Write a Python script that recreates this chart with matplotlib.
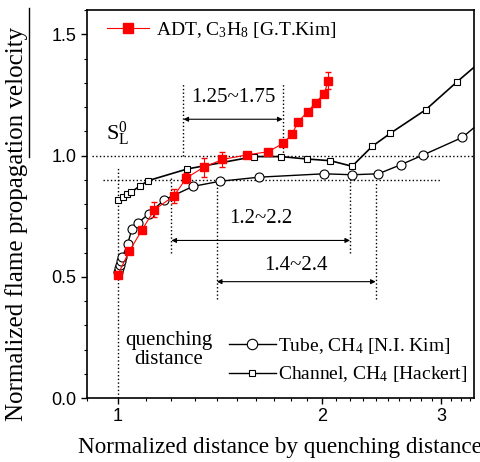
import numpy as np
import matplotlib.pyplot as plt
from matplotlib.lines import Line2D
from matplotlib.ticker import FixedLocator, NullFormatter

plt.rcParams['font.family'] = 'Liberation Serif'
plt.rcParams['mathtext.fontset'] = 'custom'
plt.rcParams['mathtext.rm'] = 'Liberation Serif'
plt.rcParams['mathtext.it'] = 'Liberation Serif:italic'

# datos
adt_x = [1.00, 1.04, 1.087, 1.133, 1.21, 1.263, 1.339, 1.427, 1.549, 1.667,
         1.751, 1.809, 1.841, 1.905, 1.958, 2.015, 2.043]
adt_y = [0.507, 0.605, 0.695, 0.777, 0.833, 0.908, 0.952, 0.984, 1.003, 1.016,
         1.05, 1.089, 1.137, 1.181, 1.219, 1.256, 1.308]
adt_err = [0.01, 0.01, 0.01, 0.03, 0.03, 0.02, 0.04, 0.03, 0.01, 0.01,
           0.01, 0.01, 0.01, 0.01, 0.01, 0.01, 0.035]

tube_x = [1.0, 1.004, 1.008, 1.012, 1.016, 1.035, 1.05, 1.073, 1.111, 1.172,
          1.291, 1.414, 1.615, 2.015, 2.217, 2.422, 2.611, 2.821, 3.22, 3.5]
tube_y = [0.52, 0.535, 0.55, 0.565, 0.58, 0.637, 0.699, 0.723, 0.760, 0.818,
          0.873, 0.894, 0.911, 0.925, 0.921, 0.925, 0.962, 1.003, 1.075, 1.16]

chan_x = [1.0, 1.017, 1.032, 1.047, 1.077, 1.110, 1.267, 1.589, 1.740, 1.900,
          2.058, 2.215, 2.371, 2.522, 2.843, 3.161, 3.5]
chan_y = [0.815, 0.829, 0.840, 0.849, 0.874, 0.897, 0.945, 0.996, 0.996, 0.986,
          0.979, 0.956, 1.038, 1.092, 1.189, 1.304, 1.41]

# rangos marcados con flechas: (x0, x1, y flecha, y0 linea, y1 linea, texto, y texto)
ranges = [
    (1.25, 1.75, 1.15, 1.00, 1.30, '1.25~1.75', 1.24),
    (1.2, 2.2, 0.65, 0.60, 0.91, '1.2~2.2', 0.74),
    (1.4, 2.4, 0.48, 0.41, 0.89, '1.4~2.4', 0.545),
]

fig = plt.figure(figsize=(4.81, 4.62), dpi=100)
ax = fig.add_axes([0.180, 0.1385, 0.8055, 0.8395])
ax.set_xscale('log')

# lineas de referencia
ax.plot([0.917, 3.4], [1.0, 1.0], ':', color='k', lw=1)
ax.plot([0.95, 3.0], [0.9, 0.9], ':', color='k', lw=1)
ax.plot([1.0, 1.0], [0.0, 0.95], ':', color='k', lw=1)

for x0, x1, ya, yb, yt, txt, ytxt in ranges:
    ax.plot([x0, x0], [yb, yt], ':', color='k', lw=1)
    ax.plot([x1, x1], [yb, yt], ':', color='k', lw=1)
    ax.annotate('', xy=(x0, ya), xytext=(x1, ya),
                arrowprops=dict(arrowstyle='<|-|>', color='k', lw=0.8,
                                mutation_scale=7, shrinkA=0, shrinkB=0))
    ax.text(np.sqrt(x0 * x1), ytxt, txt, ha='center', va='center', fontsize=15)

ax.plot(tube_x, tube_y, '-', color='k', lw=1, marker='o', ms=6.5,
        mfc='white', mec='k', mew=0.8, zorder=3)
ax.plot(chan_x, chan_y, '-', color='k', lw=1.2, marker='s', ms=4.5,
        mfc='white', mec='k', mew=0.8, zorder=3)
ax.errorbar(adt_x, adt_y, yerr=adt_err, fmt='-s', color='red', lw=0.8,
            ms=6, mfc='red', mec='red', ecolor='red', elinewidth=0.8,
            capsize=2.5, zorder=4)

ax.text(0.962, 1.09, r'$\mathrm{S}_\mathrm{L}^\mathrm{0}$', fontsize=16,
        ha='left', va='center')
ax.text(1.19, 0.2, 'quenching\ndistance', ha='center', va='center',
        fontsize=15, linespacing=1.0)

h_adt = Line2D([], [], color='red', lw=0.8, marker='s', ms=6.5, mfc='red', mec='red')
h_tube = Line2D([], [], color='k', lw=1, marker='o', ms=7.5, mfc='white', mec='k', mew=0.8)
h_chan = Line2D([], [], color='k', lw=1, marker='s', ms=5, mfc='white', mec='k', mew=0.8)

leg1 = ax.legend([h_adt], [r'ADT, C$_3$H$_8$ [G.T.Kim]'], loc='center left',
                 bbox_to_anchor=(0.0516, 0.950), frameon=False, fontsize=14,
                 borderpad=0, borderaxespad=0, handlelength=2.2, handletextpad=0.35)
ax.add_artist(leg1)
ax.legend([h_tube, h_chan], [r'Tube, CH$_4$ [N.I. Kim]', r'Channel, CH$_4$ [Hackert]'],
          loc='center left', bbox_to_anchor=(0.368, 0.098), frameon=False,
          fontsize=14, borderpad=0, borderaxespad=0, handlelength=2.4,
          handletextpad=0.1, labelspacing=0.45)

ax.set_xlim(0.9, 3.35)
ax.set_ylim(0.0, 1.6)
ax.xaxis.set_major_locator(FixedLocator([1, 2, 3]))
ax.xaxis.set_minor_locator(FixedLocator([v / 10 for v in range(9, 34) if v % 10]))
ax.xaxis.set_minor_formatter(NullFormatter())
ax.set_xticklabels(['1', '2', '3'])
ax.set_yticks([0.0, 0.5, 1.0, 1.5])
ax.set_yticks(np.arange(0, 1.61, 0.1), minor=True)
ax.set_yticklabels(['0.0', '0.5', '1.0', '1.5'])
ax.tick_params(which='major', length=4, width=1, labelsize=13)
ax.tick_params(which='minor', length=2.2, width=0.8)
for lab in ax.get_xticklabels() + ax.get_yticklabels():
    lab.set_family('Liberation Sans')
for sp in ax.spines.values():
    sp.set_linewidth(1.2)

ax.set_xlabel('Normalized distance by quenching distance', fontsize=16.7, labelpad=8)
ax.set_ylabel('Normalized flame propagation velocity', fontsize=18)
ax.yaxis.set_label_coords(-0.151, 0.45)
fig.add_artist(Line2D([29 / 481, 29 / 481], [(462 - 157) / 462, (462 - 8) / 462],
                      color='k', lw=1))

fig.savefig('out.png', dpi=100)
